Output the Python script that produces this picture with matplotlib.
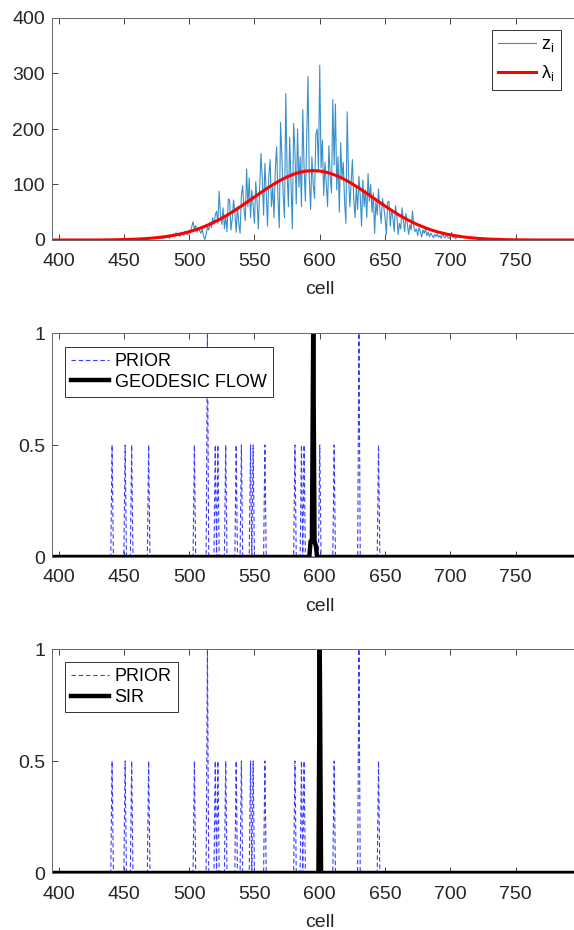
import numpy as np
import matplotlib
matplotlib.use("Agg")
import matplotlib.pyplot as plt

plt.rcParams["font.family"] = ["Liberation Sans", "DejaVu Sans"]
plt.rcParams["mathtext.fontset"] = "custom"
plt.rcParams["mathtext.rm"] = "Liberation Sans"

# ---- datos ----
# observaciones z_i por celda (478..705)
z_start = 478
z_vals = [3, 5, 2, 6, 4, 8, 5, 3, 9, 6, 11, 7, 13, 9, 12, 6, 14, 10, 8, 16, 11, 9,
          18, 13, 24, 33, 19, 26, 14, 22, 17, 12, 20, 8, 1,
          10, 24, 18, 32, 22, 40, 28, 45, 52, 30,
          88, 45, 28, 58, 20, 42, 15, 74, 72, 18, 38, 72, 50, 14, 60, 30, 12, 80,
          98, 55, 35, 128, 60, 112, 40, 90, 62, 30, 105, 70, 20, 95, 156, 110, 45, 138,
          88, 25, 114, 145, 60, 96, 40, 130, 168, 75, 22, 212, 150, 80, 40, 264,
          120, 60, 185, 100, 20, 210, 160, 65, 200, 95, 150, 60, 235, 130, 70, 180,
          295, 110, 55, 150, 100, 75, 190, 200, 125, 315, 130, 180, 80, 140, 100, 60,
          170, 115, 85, 253, 135, 245, 90, 150, 50, 175, 110, 140, 70, 30, 231, 120,
          60, 100, 145, 75, 40, 95, 55, 115, 80, 25, 108, 60, 90, 40, 120, 70,
          100, 50, 85, 12, 70, 45, 92, 55, 30, 75, 60, 40, 10, 68, 70, 25,
          55, 40, 15, 62, 45, 10, 30, 20, 58, 35, 15, 48, 30, 10, 28, 18,
          52, 25, 15, 20, 8, 22, 15, 5, 18, 12, 20, 8, 14, 6, 12, 9,
          4, 10, 6, 11, 5, 8, 3, 12, 6, 4, 9, 5, 3, 7, 14, 4, 6, 2, 5]

# intensidad lambda_i, cada 5 celdas desde 395 hasta 805
lam_cells = list(range(395, 806, 5))
lam_vals = [0, 0, 0, 0, 0, 0, 0,
            0.1, 0.2, 0.3, 0.5, 0.8, 1.2, 1.6, 2.3, 3.1, 4.2, 5.5, 7.2, 9.2, 11.8,
            14.8, 18.4, 22.7, 27.6, 33.1, 39.3, 46.0, 53.4, 61.2, 69.3, 77.5, 85.6,
            93.6, 101.0, 107.8, 113.7, 118.5, 122.1, 124.3,
            125.0,
            124.3, 122.1, 118.5, 113.7, 107.8, 101.0, 93.6, 85.6, 77.5, 69.3, 61.2,
            53.4, 46.0, 39.3, 33.1, 27.6, 22.7, 18.4, 14.8, 11.8, 9.2, 7.2, 5.5, 4.2,
            3.1, 2.3, 1.6, 1.2, 0.8, 0.5, 0.3, 0.2, 0.1,
            0, 0, 0, 0, 0, 0, 0, 0, 0]

# PRIOR: celdas con masa
prior_cells = [441, 451, 456, 469, 504, 514, 520, 522, 528, 536, 540, 547, 549,
               558, 581, 586, 588, 600, 611, 630, 645]
prior_vals = [0.5, 0.5, 0.5, 0.5, 0.5, 1.0, 0.5, 0.5, 0.5, 0.5, 0.5, 0.5, 0.5,
              0.5, 0.5, 0.5, 0.5, 0.5, 0.5, 1.0, 0.5]

# GEODESIC FLOW
geo_cells = [593, 594, 595, 596, 597]
geo_vals = [0.07, 0.07, 1.0, 0.07, 0.05]

# SIR
sir_cells = [600]
sir_vals = [1.0]

grid = np.arange(395, 806)


def en_rejilla(celdas, valores):
    y = np.zeros(len(grid))
    for c, v in zip(celdas, valores):
        y[c - 395] = v
    return y


EJE = "#262626"
FS = 14


def estilo(ax, ylim, yticks, yticklabels):
    ax.set_xlim(395, 805)
    ax.set_ylim(*ylim)
    ax.set_xticks(range(400, 751, 50))
    ax.set_yticks(yticks)
    ax.set_yticklabels(yticklabels)
    ax.tick_params(direction="in", top=True, right=True, length=4, width=0.6,
                   colors=EJE, labelsize=FS, labelcolor=EJE)
    ax.tick_params(axis="x", pad=9)
    ax.tick_params(axis="y", pad=5)
    for s in ax.spines.values():
        s.set_color("#666666")
        s.set_linewidth(0.7)
    ax.set_xlabel("cell", fontsize=FS, color=EJE, labelpad=8)


def leyenda(ax, loc, anchor, spacing):
    leg = ax.legend(loc=loc, bbox_to_anchor=anchor, borderaxespad=0,
                    fontsize=13, handlelength=2.1, fancybox=False, framealpha=1,
                    edgecolor="#333333", labelspacing=spacing, handletextpad=0.3,
                    borderpad=0.35)
    leg.get_frame().set_linewidth(0.7)


fig = plt.figure(figsize=(5.74, 9.30), dpi=100)
W = 535.5 / 574
L = 52 / 574
ax1 = fig.add_axes([L, 1 - 240 / 930, W, 222 / 930])
ax2 = fig.add_axes([L, 1 - 557 / 930, W, 224 / 930])
ax3 = fig.add_axes([L, 1 - 873 / 930, W, 224 / 930])

# 1. datos e intensidad
zc = np.arange(z_start, z_start + len(z_vals))
ax1.plot(zc, z_vals, color="#3a8fc8", linewidth=0.8, label=r"z$_\mathregular{i}$")
ax1.plot(lam_cells, lam_vals, color="#ff0000", linewidth=2.2,
         label=r"λ$_\mathregular{i}$")
estilo(ax1, (0, 400), [0, 100, 200, 300, 400], ["0", "100", "200", "300", "400"])
leyenda(ax1, "upper right", (0.9505, 0.946), 0.5)

# 2. PRIOR vs GEODESIC FLOW
ax2.plot(grid, en_rejilla(prior_cells, prior_vals), color="#3b3bff", linestyle="--",
         linewidth=0.8, dashes=(4, 2.5), label="PRIOR")
ax2.plot(grid, en_rejilla(geo_cells, geo_vals), color="black", linewidth=3.2,
         label="GEODESIC FLOW")
estilo(ax2, (0, 1), [0, 0.5, 1], ["0", "0.5", "1"])
leyenda(ax2, "upper left", (0.0243, 0.939), 0.2)

# 3. PRIOR vs SIR
ax3.plot(grid, en_rejilla(prior_cells, prior_vals), color="#3b3bff", linestyle="--",
         linewidth=0.8, dashes=(4, 2.5), label="PRIOR")
ax3.plot(grid, en_rejilla(sir_cells, sir_vals), color="black", linewidth=3.2,
         label="SIR")
estilo(ax3, (0, 1), [0, 0.5, 1], ["0", "0.5", "1"])
leyenda(ax3, "upper left", (0.0243, 0.942), 0.2)

fig.savefig("out.png", dpi=100, facecolor="white")
